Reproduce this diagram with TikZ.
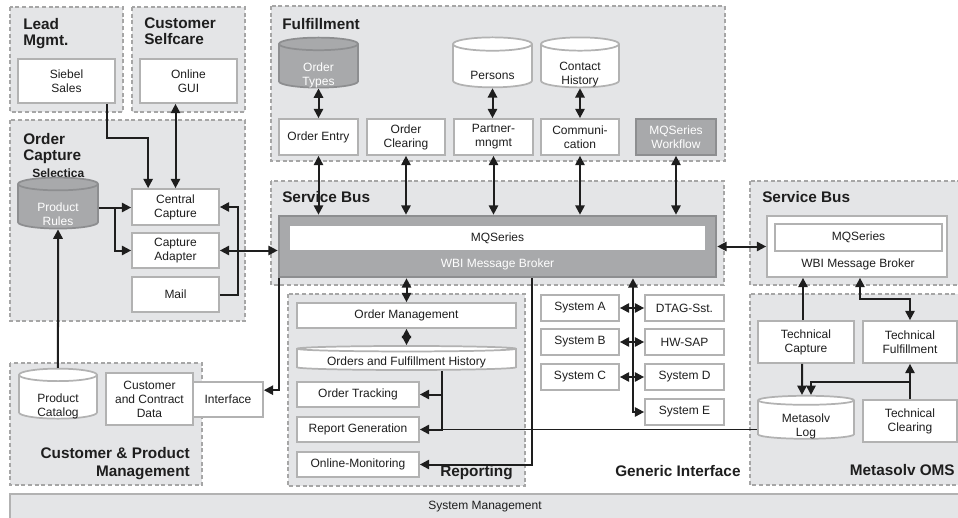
\documentclass[tikz,border=0pt]{standalone}
\usepackage{fontspec}
\setmainfont{Liberation Sans}
\usepackage{tikz}
\usetikzlibrary{arrows.meta,shapes.geometric,calc}

\definecolor{grpfill}{HTML}{E4E5E7}
\definecolor{grpline}{HTML}{A6A6A6}
\definecolor{boxline}{HTML}{B2B2B2}
\definecolor{darkfill}{HTML}{A8A9AB}
\definecolor{darkline}{HTML}{8D8E90}
\definecolor{ink}{HTML}{1E1E1E}

\tikzset{
  grp/.style={draw=grpline, fill=grpfill, line width=1.1pt, dash pattern=on 3pt off 2pt},
  wh/.style 2 args={minimum width=#1*0.75pt, minimum height=#2*0.75pt},
  box/.style={draw=boxline, fill=white, line width=1.3pt, text=ink, align=center,
    inner sep=1pt, font=\fontsize{9}{10.5}\selectfont},
  darkbox/.style={box, draw=darkline, fill=darkfill, text=white},
  db/.style 2 args={cylinder, shape border rotate=90, aspect=#1, text width=#2},
  ttl/.style={inner sep=0pt, text=ink, font=\bfseries\fontsize{11.5}{12}\selectfont},
  lbl/.style={inner sep=0pt, align=center, text=ink, font=\fontsize{9}{10.5}\selectfont},
  link/.style={draw=ink, line width=1.5pt},
  >={Triangle[length=7pt,width=7pt]},
}

\begin{document}
\begin{tikzpicture}[x=0.75pt,y=-0.75pt]
\useasboundingbox (0,0) rectangle (958,518);

% groups
\draw[grp] (10,7) rectangle (123,112);
\draw[grp] (132,7) rectangle (245,112);
\draw[grp] (10,120) rectangle (245,321);
\draw[grp] (271,6) rectangle (725,161);
\draw[grp] (271,181) rectangle (724,285);
\draw[grp] (750,181) rectangle (965,285);
\draw[grp] (288,294) rectangle (525,486);
\draw[grp] (750,294) rectangle (965,485);
\draw[grp] (10,363) rectangle (202,485);

% titles
\node[ttl,anchor=north west,align=left] (tLead) at (23,18) {Lead\\Mgmt.};
\node[ttl,anchor=north west,align=left] (tSelf) at (144,18) {Customer\\Selfcare};
\node[ttl,anchor=north west,align=left] (tCapt) at (23,133) {Order\\Capture};
\node[ttl,anchor=base west,font=\bfseries\fontsize{9}{10}\selectfont] (tSel) at (32,177) {Selectica};
\node[ttl,anchor=base west] (tFul) at (282,29) {Fulfillment};
\node[ttl,anchor=base west] (tBus) at (282,202) {Service Bus};
\node[ttl,anchor=base west] (tBus2) at (762,202) {Service Bus};
\node[ttl,anchor=base west] (tRep) at (440,476) {Reporting};
\node[ttl,anchor=base west] (tGen) at (615,476) {Generic Interface};
\node[ttl,anchor=base east] (tOMS) at (955,475) {Metasolv OMS};
\node[ttl,anchor=north east,align=right,font=\bfseries\fontsize{11.5}{13.5}\selectfont] (tCPM) at (190,447) {Customer \& Product\\Management};

% lead / selfcare / order capture
\node[box,wh={97}{44}] (siebel) at (66.5,81) {Siebel\\Sales};
\node[box,wh={97}{44}] (gui) at (188.5,81) {Online\\GUI};
\node[darkbox,db={0.16}{58pt},wh={80}{51},label={[lbl,text=white,yshift=-5pt]center:Product\\Rules}] (rules) at (58,207.5) {};
\node[box,wh={87}{36}] (central) at (175.5,207) {Central\\Capture};
\node[box,wh={87}{35}] (adapter) at (175.5,250.5) {Capture\\Adapter};
\node[box,wh={87}{35}] (mail) at (175.5,294.5) {Mail};

% fulfillment
\node[darkbox,db={0.16}{57pt},wh={79}{50},label={[lbl,text=white,yshift=-6pt]center:Order\\Types}] (types) at (318.5,67) {};
\node[box,db={0.17}{57pt},wh={79}{50},label={[lbl,yshift=-6pt]center:Persons}] (persons) at (492.5,67) {};
\node[box,db={0.17}{56.5pt},wh={78}{50},label={[lbl,yshift=-6pt]center:Contact\\History}] (contact) at (580,67) {};
\node[box,wh={79}{36}] (entry) at (318.5,137) {Order Entry};
\node[box,wh={78}{36}] (clearing) at (406,137) {Order\\Clearing};
\node[box,wh={79}{36}] (partner) at (493.5,137) {Partner-\\mngmt};
\node[box,wh={78}{36}] (comm) at (580,137) {Communi-\\cation};
\node[darkbox,wh={80}{36}] (workflow) at (676,137) {MQSeries\\Workflow};

% service bus
\node[draw=darkline, fill=darkfill, line width=2pt, wh={437}{61}] (broker) at (497.5,246.5) {};
\node[lbl, fill=white, wh={415}{24}] (mq) at (497.5,238) {MQSeries};
\node[lbl, text=white] (wbi) at (497.5,264) {WBI Message Broker};
\node[box,wh={180}{61}] (broker2) at (857,246.5) {};
\node[box,wh={167}{27}] (mq2) at (858.5,237.5) {MQSeries};
\node[lbl] (wbi2) at (858,264) {WBI Message Broker};

% reporting
\node[box,wh={219}{25}] (ordmgmt) at (406.5,315.5) {Order Management};
\node[box,db={0.025}{162pt},wh={219}{24},label={[lbl,yshift=-2pt]center:Orders and Fulfillment History}] (history) at (406.5,360) {};
\node[box,wh={122}{25}] (tracking) at (358,394.5) {Order Tracking};
\node[box,wh={122}{25}] (reportgen) at (358,429.5) {Report Generation};
\node[box,wh={122}{25}] (monitoring) at (358,464.5) {Online-Monitoring};

% generic interface
\node[box,wh={78}{26}] (sysA) at (580,308) {System A};
\node[box,wh={79}{26}] (dtag) at (684.5,308) {DTAG-Sst.};
\node[box,wh={78}{26}] (sysB) at (580,342) {System B};
\node[box,wh={79}{26}] (hwsap) at (684.5,342) {HW-SAP};
\node[box,wh={78}{26}] (sysC) at (580,377) {System C};
\node[box,wh={79}{26}] (sysD) at (684.5,377) {System D};
\node[box,wh={79}{26}] (sysE) at (684.5,412) {System E};

% metasolv
\node[box,wh={96}{42}] (tcapture) at (806,342) {Technical\\Capture};
\node[box,wh={94}{42}] (tfulfill) at (910,342) {Technical\\Fulfillment};
\node[box,db={0.094}{70pt},wh={96}{43},label={[lbl,yshift=-4.5pt]center:Metasolv\\Log}] (log) at (806,420.5) {};
\node[box,wh={94}{42}] (tclearing) at (910,421) {Technical\\Clearing};

% customer & product management
\node[box,db={0.16}{56.5pt},wh={78}{50},label={[lbl,yshift=-6pt]center:Product\\Catalog}] (catalog) at (58,398) {};
\node[box,wh={87}{52}] (contract) at (149.5,399) {Customer\\and Contract\\Data};
\node[box,wh={70}{35}] (interface) at (228,399.5) {Interface};

% system management
\node[box,fill=grpfill,wh={950}{26}] (sysmgmt) at (485,507) {System Management};

% connectors: order capture
\draw[link,->] ([xshift=-6.75pt]siebel.south east) -- ++(0,34) -| ([xshift=12.75pt]central.north west);
\draw[link,<->] (central.north |- gui.south) -- (central.north);
\coordinate (rj) at ($(rules.east)!0.5!(rules.east -| central.west)$);
\draw[link,->] (rules.east) -- (rules.east -| central.west);
\draw[link,->] (rj) |- (adapter.west);
\draw[link,->] (mail.east) -- ++(18,0) |- (central.east);
\draw[link,<->] (adapter.east) -- (adapter.east -| broker.west);
\draw[link,->] (catalog.north) -- (rules.south);
\draw[link,->] ([xshift=0.75pt]broker.south west) |- ([yshift=7pt]interface.east);

% connectors: fulfillment
\draw[link,<->] (types.south) -- (entry.north);
\draw[link,<->] (persons.south) -- (persons.south |- partner.north);
\draw[link,<->] (contact.south) -- (comm.north);
\foreach \n in {entry,clearing,partner,comm,workflow}
  \draw[link,<->] (\n.south) -- (\n.south |- broker.north);

% connectors: bus and reporting
\draw[link,<->] (broker.east) -- (broker2.west);
\draw[link,<->] (ordmgmt.north |- broker.south) -- (ordmgmt.north);
\draw[link,<->] (ordmgmt.south) -- (history.north);
\coordinate (hs) at ([xshift=26.6pt]history.south);
\draw[link,->] (hs) |- (reportgen.east);
\draw[link,->] (hs |- tracking.east) -- (tracking.east);
\draw[link,line width=0.9pt] (log.west |- reportgen.east) -- (hs |- reportgen.east);
\draw[link,->] ([xshift=25.9pt]broker.south) |- (monitoring.east);

% connectors: generic interface
\draw[link,<->] ([xshift=101.6pt]broker.south) |- (sysE.west);
\draw[link,<->] (sysA.east) -- (dtag.west);
\draw[link,<->] (sysB.east) -- (hwsap.west);
\draw[link,<->] (sysC.east) -- (sysD.west);

% connectors: metasolv
\draw[link,->] ([xshift=-2.25pt]tcapture.north) -- ([xshift=-2.25pt]tcapture.north |- broker2.south);
\draw[link,<->] ([xshift=2.25pt]broker2.south) -- ++(0,21) -| (tfulfill.north);
\draw[link,->] ([xshift=-3pt]tcapture.south) -- ([xshift=-3pt]log.north);
\draw[link,->] (tclearing.north) -- (tfulfill.south);
\draw[link,->] ($(tclearing.north)!0.5!(tfulfill.south)$) -| ([xshift=3.75pt]log.north);
\end{tikzpicture}
\end{document}
